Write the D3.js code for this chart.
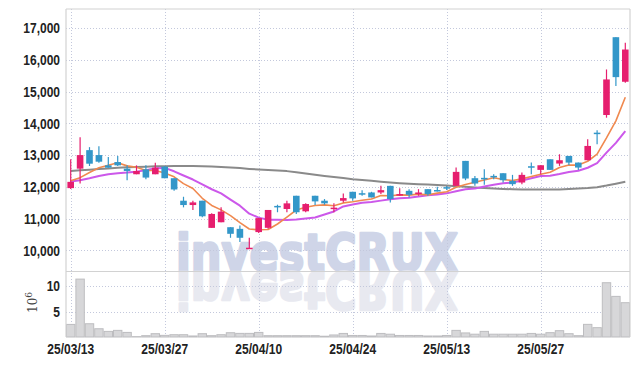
<!DOCTYPE html>
<html>
<head>
<meta charset="utf-8">
<script src="https://cdn.jsdelivr.net/npm/d3@7"></script>
<style>
  html, body { margin: 0; padding: 0; background: #fff; }
  svg { display: block; }
  .axis text { font-family: "Liberation Sans", Arial, sans-serif; font-weight: bold; font-size: 15px; fill: #222; }
</style>
</head>
<body>
<div id="chart"></div>
<script>
"use strict";

// Trading days shown on the chart.
const dates = [
  "25/03/13", "25/03/14", "25/03/17", "25/03/18", "25/03/19", "25/03/20", "25/03/21", "25/03/24", "25/03/25", "25/03/26",
  "25/03/27", "25/03/28", "25/03/31", "25/04/01", "25/04/02", "25/04/03", "25/04/04", "25/04/07", "25/04/08", "25/04/09",
  "25/04/10", "25/04/11", "25/04/14", "25/04/15", "25/04/16", "25/04/17", "25/04/18", "25/04/21", "25/04/22", "25/04/23",
  "25/04/24", "25/04/25", "25/04/28", "25/04/29", "25/04/30", "25/05/02", "25/05/07", "25/05/08", "25/05/09", "25/05/12",
  "25/05/13", "25/05/14", "25/05/15", "25/05/16", "25/05/19", "25/05/20", "25/05/21", "25/05/22", "25/05/23", "25/05/26",
  "25/05/27", "25/05/28", "25/05/29", "25/05/30", "25/06/02", "25/06/04", "25/06/05", "25/06/09", "25/06/10", "25/06/11"
];

const opens = [
  11960, 12573, 13156, 13000, 12677, 12781, 12573, 12396, 12552, 12396,
  12635, 12271, 11563, 11427, 11563, 10708, 10885, 10729, 10677, 10070,
  10575, 10710, 11400, 11303, 11719, 11230, 11719, 11563, 11325, 11563,
  11844, 11800, 11823, 11823, 12031, 11760, 11875, 11771, 11927, 11900,
  11990, 12031, 12817, 12272, 12283, 12345, 12429, 12188, 12136, 12649,
  12534, 12869, 12733, 12974, 12764, 12838, 13706, 14262, 16712, 15309
];
const highs = [
  12870, 13563, 13250, 13281, 12938, 12969, 12677, 12677, 12677, 12760,
  12656, 12271, 11688, 11563, 11563, 11167, 11354, 10729, 10781, 10396,
  11016, 11272, 11438, 11563, 11719, 11480, 11719, 11615, 11480, 11792,
  11844, 11896, 11844, 12031, 12031, 11958, 11927, 11927, 11927, 12000,
  12030, 12607, 12817, 12345, 12555, 12398, 12429, 12377, 12450, 12764,
  12680, 12869, 13026, 12974, 12764, 13497, 13780, 15696, 16712, 16534
];
const lows = [
  11930, 12104, 12656, 12760, 12604, 12656, 12208, 12396, 12240, 12396,
  12271, 11875, 11354, 11271, 11042, 10708, 10885, 10396, 10260, 10052,
  10545, 10680, 11200, 11200, 11147, 11200, 11428, 11438, 11200, 11510,
  11563, 11719, 11667, 11771, 11510, 11719, 11667, 11719, 11719, 11854,
  11900, 12031, 12209, 12031, 12063, 12241, 12136, 12031, 12084, 12398,
  12398, 12534, 12660, 12690, 12534, 12838, 13340, 14178, 15173, 15277
];
const closes = [
  12157, 13000, 12729, 12792, 12604, 12677, 12500, 12500, 12292, 12604,
  12271, 11917, 11427, 11510, 11073, 11146, 11219, 10521, 10396, 10083,
  11016, 11272, 11385, 11480, 11200, 11459, 11542, 11480, 11345, 11646,
  11636, 11790, 11667, 11896, 11615, 11771, 11750, 11823, 11771, 11896,
  11975, 12471, 12262, 12105, 12262, 12325, 12209, 12084, 12377, 12628,
  12680, 12534, 12838, 12764, 12607, 13288, 13660, 15382, 15455, 16324
];

// Volume in millions of shares.
const volumes = [
  2.47, 11.36, 2.6, 1.62, 1.1, 1.3, 0.9, 0.07, 0.26, 0.65,
  0.32, 0.45, 0.45, 0.2, 0.65, 0.26, 0.45, 0.84, 0.71, 0.71,
  0.9, 0.26, 0.26, 0.26, 0.26, 0.26, 0.26, 0.15, 0.4, 0.7,
  0.3, 0.3, 0.2, 0.7, 0.55, 0.3, 0.3, 0.3, 0.2, 0.2,
  0.3, 1.3, 0.8, 0.55, 1.1, 0.55, 0.55, 0.55, 0.55, 0.7,
  0.55, 0.85, 1.24, 0.65, 0.26, 2.48, 1.83, 10.65, 7.97, 6.73
];

// Moving averages (orange, purple, grey).
const ma5 = [
  12190, 12290, 12450, 12600, 12680, 12760, 12660, 12615, 12515, 12515,
  12433, 12317, 12102, 11946, 11640, 11415, 11275, 11094, 10871, 10673,
  10647, 10658, 10830, 11047, 11271, 11359, 11413, 11432, 11405, 11494,
  11530, 11579, 11617, 11727, 11721, 11748, 11740, 11771, 11746, 11802,
  11843, 11987, 12075, 12142, 12215, 12285, 12233, 12197, 12251, 12325,
  12396, 12461, 12611, 12689, 12685, 12806, 13031, 13540, 14078, 14822
];
const ma10 = [
  12167, 12208, 12271, 12344, 12396, 12427, 12448, 12479, 12521, 12586,
  12597, 12489, 12358, 12230, 12077, 11924, 11796, 11598, 11408, 11156,
  11031, 10966, 10962, 10959, 10972, 11003, 11035, 11131, 11226, 11383,
  11445, 11496, 11525, 11566, 11608, 11639, 11660, 11694, 11737, 11762,
  11795, 11864, 11923, 11944, 12009, 12064, 12110, 12136, 12197, 12270,
  12340, 12347, 12404, 12470, 12505, 12601, 12746, 13076, 13384, 13753
];
const maLong = [
  12500, 12520, 12540, 12560, 12580, 12600, 12615, 12625, 12635, 12645,
  12650, 12655, 12655, 12655, 12650, 12640, 12625, 12610, 12590, 12565,
  12545, 12530, 12515, 12495, 12460, 12420, 12380, 12345, 12310, 12275,
  12240, 12215, 12190, 12160, 12135, 12115, 12100, 12085, 12070, 12055,
  12040, 12020, 12000, 11980, 11965, 11950, 11935, 11925, 11920, 11915,
  11915, 11915, 11920, 11930, 11945, 11960, 11990, 12040, 12100, 12160
];

const priceTicks = [10000, 11000, 12000, 13000, 14000, 15000, 16000, 17000];
const volumeTicks = [5, 10];
const dateTicks = ["25/03/13", "25/03/27", "25/04/10", "25/04/24", "25/05/13", "25/05/27"];

const width = 639, height = 366;
const plotLeft = 66, plotRight = 630, plotTop = 9, priceBottom = 271, volumeBottom = 337;

const upColour = "#e61e6e";
const downColour = "#3397c9";
const gridColour = "#c3c8dc";
const frameColour = "#d2d2d2";

let svg = d3.select("#chart")
  .append("svg")
  .attr("width", width)
  .attr("height", height);

let x = d3.scaleBand()
  .domain(dates)
  .range([plotLeft, plotRight])
  .padding(0);
const xMid = d => x(d) + x.bandwidth() / 2;

let yPrice = d3.scaleLinear().domain([9350, 17600]).range([priceBottom, plotTop]);
let yVolume = d3.scaleLinear().domain([0, 12.95]).range([volumeBottom, priceBottom]);

// Watermark and its reflection below the panel line.
// A stroke in the same colour thickens the glyphs to match the heavy logo.
function watermark(fill, transform) {
  svg.append("text")
    .attr("x", 176)
    .attr("y", 271)
    .attr("transform", transform)
    .attr("font-family", "'DejaVu Sans', sans-serif")
    .attr("font-weight", "bold")
    .attr("font-size", 52)
    .attr("textLength", 282)
    .attr("lengthAdjust", "spacingAndGlyphs")
    .attr("fill", fill)
    .attr("stroke", fill)
    .attr("stroke-width", 2.6)
    .attr("stroke-linejoin", "round")
    .text("investCRUX");
}
watermark("#cfd5e8", null);
watermark("#e8e9f0", "translate(0,543) scale(1,-1)");

// Dotted grid, drawn over the watermark.
let grid = svg.append("g")
  .attr("stroke", gridColour)
  .attr("stroke-width", 1)
  .attr("stroke-dasharray", "1,2");

grid.selectAll(".vgrid").data(dateTicks).enter()
  .append("line")
  .attr("x1", d => Math.round(xMid(d)) + 0.5)
  .attr("x2", d => Math.round(xMid(d)) + 0.5)
  .attr("y1", plotTop)
  .attr("y2", volumeBottom);

grid.selectAll(".pgrid").data(priceTicks).enter()
  .append("line")
  .attr("x1", plotLeft)
  .attr("x2", plotRight)
  .attr("y1", d => Math.round(yPrice(d)) + 0.5)
  .attr("y2", d => Math.round(yPrice(d)) + 0.5);

grid.selectAll(".vlgrid").data(volumeTicks).enter()
  .append("line")
  .attr("x1", plotLeft)
  .attr("x2", plotRight)
  .attr("y1", d => Math.round(yVolume(d)) + 0.5)
  .attr("y2", d => Math.round(yVolume(d)) + 0.5);

// Volume bars.
svg.append("g").selectAll("rect")
  .data(dates).enter()
  .append("rect")
  .attr("x", d => x(d) + 0.5)
  .attr("width", x.bandwidth() - 1)
  .attr("y", (d, i) => yVolume(volumes[i]))
  .attr("height", (d, i) => volumeBottom - yVolume(volumes[i]))
  .attr("fill", "#d7d7d9")
  .attr("stroke", "#bdbdc0")
  .attr("stroke-width", 1);

// Frame.
let frame = svg.append("g").attr("stroke", frameColour).attr("stroke-width", 1.2);
frame.append("line").attr("x1", plotLeft).attr("x2", plotLeft).attr("y1", plotTop).attr("y2", volumeBottom);
frame.append("line").attr("x1", plotRight).attr("x2", plotRight).attr("y1", plotTop).attr("y2", volumeBottom);
frame.append("line").attr("x1", plotLeft).attr("x2", plotRight).attr("y1", plotTop).attr("y2", plotTop);
frame.append("line").attr("x1", plotLeft).attr("x2", plotRight).attr("y1", priceBottom + 0.5).attr("y2", priceBottom + 0.5);

// Moving average lines.
const maLines = [
  { values: maLong, colour: "#8a8a8a", width: 2 },
  { values: ma10, colour: "#cc58ea", width: 2 },
  { values: ma5, colour: "#f0894f", width: 1.6 }
];
let line = d3.line()
  .x((v, i) => xMid(dates[i]))
  .y(v => yPrice(v));

svg.append("g").selectAll("path")
  .data(maLines).enter()
  .append("path")
  .attr("d", d => line(d.values))
  .attr("fill", "none")
  .attr("stroke", d => d.colour)
  .attr("stroke-width", d => d.width)
  .attr("stroke-linejoin", "round");

// Candles.
let candles = svg.append("g").selectAll("g")
  .data(dates).enter()
  .append("g")
  .attr("fill", (d, i) => closes[i] >= opens[i] ? upColour : downColour)
  .attr("stroke", (d, i) => closes[i] >= opens[i] ? upColour : downColour);

candles.append("line")
  .attr("x1", xMid).attr("x2", xMid)
  .attr("y1", (d, i) => yPrice(highs[i]))
  .attr("y2", (d, i) => yPrice(lows[i]))
  .attr("stroke-width", 1.2);

const bodyWidth = 6.6;
candles.append("rect")
  .attr("stroke", "none")
  .attr("x", d => xMid(d) - bodyWidth / 2)
  .attr("width", bodyWidth)
  .attr("y", (d, i) => yPrice(Math.max(opens[i], closes[i])))
  .attr("height", (d, i) => Math.max(1.5, Math.abs(yPrice(opens[i]) - yPrice(closes[i]))));

// Axes (labels only).
svg.append("g")
  .attr("class", "axis")
  .attr("transform", `translate(0,${volumeBottom})`)
  .call(d3.axisBottom(x).tickValues(dateTicks).tickSize(0).tickPadding(6));

svg.append("g")
  .attr("class", "axis")
  .attr("transform", `translate(${plotLeft},0)`)
  .call(d3.axisLeft(yPrice).tickValues(priceTicks).tickSize(0).tickPadding(6).tickFormat(d3.format(",")));

svg.append("g")
  .attr("class", "axis")
  .attr("transform", `translate(${plotLeft},0)`)
  .call(d3.axisLeft(yVolume).tickValues(volumeTicks).tickSize(0).tickPadding(6));

svg.selectAll(".axis .domain").remove();

// The reference labels use a narrow face, so squeeze the glyphs.
svg.selectAll(".axis text").each(function() {
  let w = this.getComputedTextLength();
  d3.select(this)
    .attr("textLength", w * 0.8)
    .attr("lengthAdjust", "spacingAndGlyphs");
});

// Volume unit label.
let unit = svg.append("text")
  .attr("transform", "translate(37,313) rotate(-90)")
  .style("font-family", "'DejaVu Serif', serif")
  .style("font-size", "12px")
  .attr("fill", "#444");
unit.append("tspan").text("10");
unit.append("tspan").attr("dy", -5).style("font-size", "9px").text("6");
</script>
</body>
</html>
